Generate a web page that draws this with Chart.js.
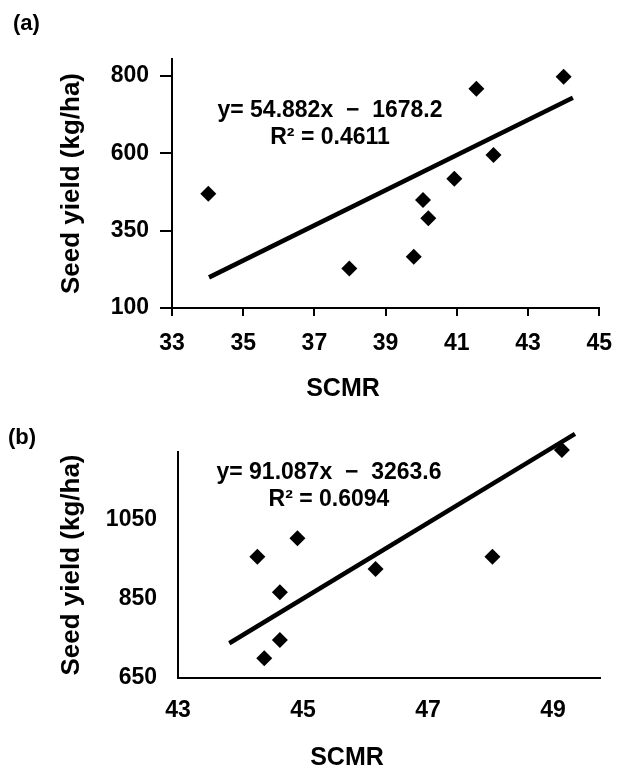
<!DOCTYPE html>
<html><head><meta charset="utf-8">
<script src="https://cdn.jsdelivr.net/npm/chart.js@4"></script>
<style>
html,body{margin:0;padding:0;background:#fff;width:626px;height:771px;overflow:hidden}
#wrap{position:relative;width:626px;height:771px}
canvas{position:absolute;left:0}
</style></head><body>
<div id="wrap">
<canvas id="ca" width="626" height="410" style="top:0px"></canvas>
<canvas id="cb" width="626" height="361" style="top:410px"></canvas>
</div>
<script>
// ---- Panel (a) data ----
const scmrA = [34.02, 37.98, 39.79, 40.05, 40.20, 40.93, 41.55, 42.03, 44.00];
const yieldA = [469, 228, 266, 449, 390, 518, 809, 595, 848];
const trendAx = [34.04, 44.26];
const trendAy = [199, 780];
const xTicksA = [33, 35, 37, 39, 41, 43, 45];
const yTicksA = [100, 350, 600, 850];
const yTickLabelsA = ['100', '350', '600', '800'];
const eqA = ['y= 54.882x  \u2212  1678.2', 'R\u00B2 = 0.4611'];

// ---- Panel (b) data ----
const scmrB = [44.27, 44.91, 44.63, 44.63, 44.38, 46.16, 48.03, 49.14];
const yieldB = [957, 1004, 867, 746, 700, 926, 957, 1227];
const trendBx = [43.82, 49.35];
const trendBy = [738, 1268];
const xTicksB = [43, 45, 47, 49];
const yTicksB = [650, 850, 1050];
const yTickLabelsB = ['650', '850', '1050'];
const eqB = ['y= 91.087x  \u2212  3263.6', 'R\u00B2 = 0.6094'];

const FAM = '"Liberation Sans", Arial, Helvetica, sans-serif';
Chart.defaults.font.family = FAM;
Chart.defaults.color = '#000';

const textPlugin = {
  id: 'texts',
  afterDraw(chart, args, opts) {
    const ctx = chart.ctx;
    ctx.save();
    ctx.fillStyle = '#000';
    ctx.textBaseline = 'middle';
    (opts.items || []).forEach(it => {
      ctx.font = it.font;
      ctx.textAlign = it.align || 'center';
      ctx.fillText(it.text, it.x, it.y);
    });
    ctx.restore();
  }
};

function pts(xs, ys) { return xs.map((x, i) => ({x: x, y: ys[i]})); }

function makeChart(id, cfg) {
  const tickFont = {family: FAM, size: 23, weight: 'bold'};
  return new Chart(document.getElementById(id), {
    type: 'scatter',
    data: {
      datasets: [
        {data: pts(cfg.xs, cfg.ys), pointStyle: 'rectRot', pointRadius: 8, pointHoverRadius: 8,
         backgroundColor: '#000', borderWidth: 0, clip: false, order: 2},
        {data: pts(cfg.tx, cfg.ty), showLine: true, borderColor: '#000', borderWidth: 4.5,
         pointRadius: 0, pointHoverRadius: 0, clip: false, order: 1, borderCapStyle: 'butt'}
      ]
    },
    options: {
      responsive: false, animation: false, devicePixelRatio: 1,
      layout: {padding: cfg.pad},
      plugins: {legend: {display: false}, tooltip: {enabled: false}, texts: {items: cfg.texts}},
      scales: {
        x: {
          type: 'linear', min: cfg.xmin, max: cfg.xmax,
          afterBuildTicks: s => { s.ticks = cfg.xticks.map(v => ({value: v})); },
          afterFit: s => { s.height = cfg.xh; },
          grid: {drawOnChartArea: false, drawTicks: cfg.drawTicks, tickLength: 8, color: '#000', lineWidth: 2},
          border: {display: true, color: '#000', width: 2},
          ticks: {color: '#000', font: tickFont, padding: cfg.xpad, maxRotation: 0, autoSkip: false}
        },
        y: {
          type: 'linear', min: cfg.ymin, max: cfg.ymax,
          afterBuildTicks: s => { s.ticks = cfg.yticks.map(v => ({value: v})); },
          afterFit: s => { s.width = cfg.yw; },
          grid: {drawOnChartArea: false, drawTicks: cfg.drawTicks, tickLength: 12, color: '#000', lineWidth: 2},
          border: {display: true, color: '#000', width: 2},
          ticks: {color: '#000', font: tickFont, padding: cfg.ypad, autoSkip: false,
                  callback: v => cfg.ylabels[cfg.yticks.indexOf(v)]},
          title: {display: true, text: 'Seed yield (kg/ha)', color: '#000',
                  font: {family: FAM, size: 26, weight: 'bold'}, padding: {top: 56, bottom: 0}}
        }
      }
    },
    plugins: [textPlugin]
  });
}

const bold = s => 'bold ' + s + 'px ' + FAM;

makeChart('ca', {
  xs: scmrA, ys: yieldA, tx: trendAx, ty: trendAy,
  xmin: 33, xmax: 45, ymin: 100, ymax: 905,
  xticks: xTicksA, yticks: yTicksA, ylabels: yTickLabelsA,
  pad: {left: 0, top: 59, right: 19, bottom: 0},
  xh: 102, yw: 172, xpad: 14, ypad: 11, drawTicks: true,
  texts: [
    {text: '(a)', x: 13, y: 24, font: bold(22), align: 'left'},
    {text: eqA[0], x: 330, y: 111, font: bold(23)},
    {text: eqA[1], x: 330, y: 138, font: bold(23)},
    {text: 'SCMR', x: 343, y: 389, font: bold(25)}
  ]
});

makeChart('cb', {
  xs: scmrB, ys: yieldB, tx: trendBx, ty: trendBy,
  xmin: 43, xmax: 49.75, ymin: 650, ymax: 1222,
  xticks: xTicksB, yticks: yTicksB, ylabels: yTickLabelsB,
  pad: {left: 0, top: 42, right: 26, bottom: 0},
  xh: 93, yw: 178, xpad: 19, ypad: 21, drawTicks: false,
  texts: [
    {text: '(b)', x: 8, y: 28, font: bold(22), align: 'left'},
    {text: eqB[0], x: 329, y: 63, font: bold(23)},
    {text: eqB[1], x: 329, y: 90, font: bold(23)},
    {text: 'SCMR', x: 347, y: 348, font: bold(25)}
  ]
});
</script>
</body></html>
